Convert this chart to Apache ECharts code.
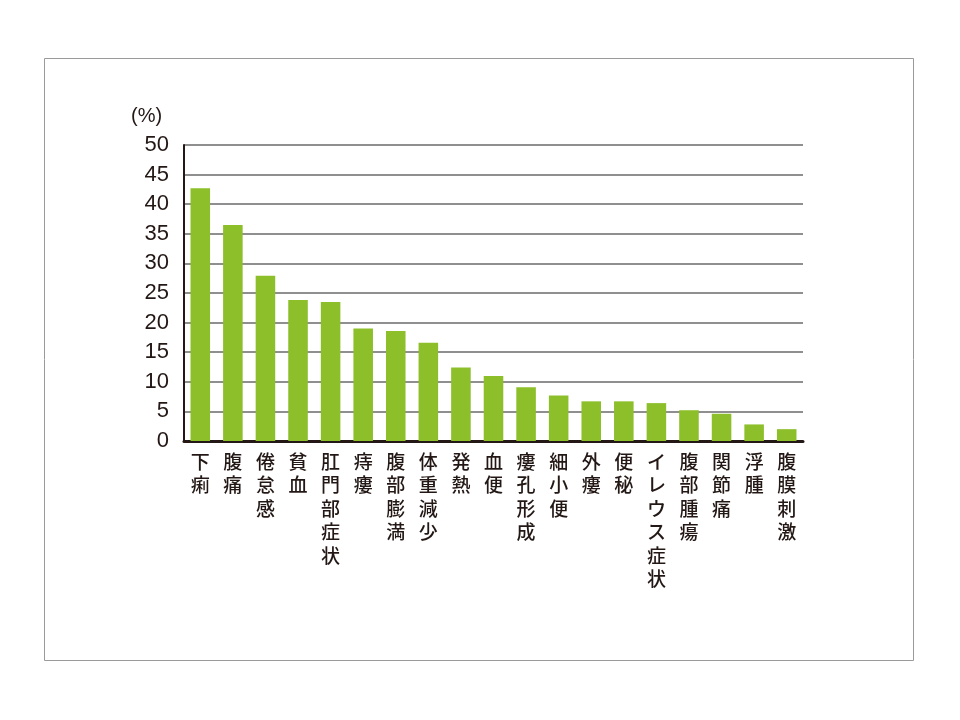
<!DOCTYPE html>
<html>
<head>
<meta charset="utf-8">
<script src="https://cdn.jsdelivr.net/npm/echarts@6/dist/echarts.min.js"></script>
<style>html,body{margin:0;padding:0;background:#fff;}#c{width:960px;height:720px;}</style>
</head>
<body>
<div id="c"></div>
<script>
const categories = ['下痢','腹痛','倦怠感','貧血','肛門部症状','痔瘻','腹部膨満','体重減少','発熱','血便','瘻孔形成','細小便','外瘻','便秘','イレウス症状','腹部腫瘍','関節痛','浮腫','腹膜刺激'];
const values = [42.7, 36.5, 27.9, 23.8, 23.5, 19.0, 18.6, 16.6, 12.4, 11.0, 9.1, 7.7, 6.7, 6.7, 6.4, 5.2, 4.6, 2.8, 2.0];
const yTicks = [0, 5, 10, 15, 20, 25, 30, 35, 40, 45, 50];
const unitLabel = '(%)';

const chart = echarts.init(document.getElementById('c'), null, {renderer: 'canvas'});
chart.setOption({
  animation: false,
  backgroundColor: '#fff',
  title: {
    text: unitLabel, left: 126, top: 101,
    textStyle: {fontFamily: 'Liberation Sans, Arial, sans-serif', fontSize: 20, fontWeight: 'normal', color: '#231815'}
  },
  graphic: [{
    type: 'rect', shape: {x: 44.5, y: 58.5, width: 869, height: 602},
    style: {fill: 'none', stroke: '#9a9a9a', lineWidth: 1}, silent: true
  }],
  grid: {left: 184, right: 157, top: 145, bottom: 279, containLabel: false},
  xAxis: {
    type: 'category', data: categories,
    axisLine: {lineStyle: {color: '#231815', width: 3}},
    axisTick: {show: false},
    axisLabel: {
      interval: 0, margin: 9,
      formatter: v => v.split('').join('\n'),
      fontFamily: 'Noto Sans CJK JP', fontSize: 19, fontWeight: 500, lineHeight: 23.5, color: '#231815',
      verticalAlign: 'top'
    }
  },
  yAxis: {
    type: 'value', min: yTicks[0], max: yTicks[yTicks.length - 1], interval: 5,
    axisLine: {show: true, lineStyle: {color: '#231815', width: 2}},
    axisTick: {show: false},
    splitLine: {lineStyle: {color: '#8f8f8f', width: 2}},
    axisLabel: {margin: 15, fontFamily: 'Liberation Sans, Arial, sans-serif', fontSize: 22, color: '#231815'}
  },
  series: [{
    type: 'bar', data: values, barWidth: '60%',
    itemStyle: {color: '#8cbf2a'}
  }]
});
</script>
</body>
</html>
